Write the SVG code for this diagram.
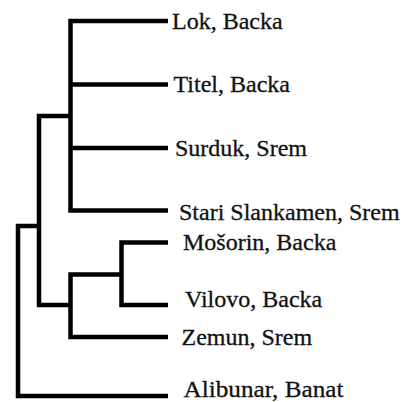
<svg xmlns="http://www.w3.org/2000/svg" width="407" height="402" viewBox="0 0 407 402">
<style>
.e{fill:none;stroke:#000;stroke-width:4.5;stroke-linejoin:miter;stroke-linecap:butt}
.t{font-family:"Liberation Serif","Times New Roman",serif;font-size:24px;fill:#111;stroke:#111;stroke-width:0.3}
</style>
<rect width="407" height="402" fill="#fff"/>
<g id="connectors">
<path class="e" d="M39,226 H18 V396 H168"/>
<path class="e" d="M70.5,116 H39 V305 H70.5"/>
<path class="e" d="M168,21 H70.5 V210.5 H168"/>
<path class="e" d="M70.5,84.5 H168"/>
<path class="e" d="M70.5,148 H168"/>
<path class="e" d="M121.5,274.5 H70.5 V337 H168"/>
<path class="e" d="M168,242.5 H121.5 V305 H168"/>
</g>
<g id="lok"><text class="t" x="172" y="28.5">Lok, Backa</text></g>
<g id="titel"><text class="t" x="173.5" y="92">Titel, Backa</text></g>
<g id="surduk"><text class="t" x="175" y="156">Surduk, Srem</text></g>
<g id="stari"><text class="t" x="179" y="220">Stari Slankamen, Srem</text></g>
<g id="mosorin"><text class="t" x="183" y="250">Mošorin, Backa</text></g>
<g id="vilovo"><text class="t" x="185" y="306.5">Vilovo, Backa</text></g>
<g id="zemun"><text class="t" x="181.5" y="345">Zemun, Srem</text></g>
<g id="alibunar"><text class="t" x="183.5" y="397" textLength="160" lengthAdjust="spacingAndGlyphs">Alibunar, Banat</text></g>
</svg>
